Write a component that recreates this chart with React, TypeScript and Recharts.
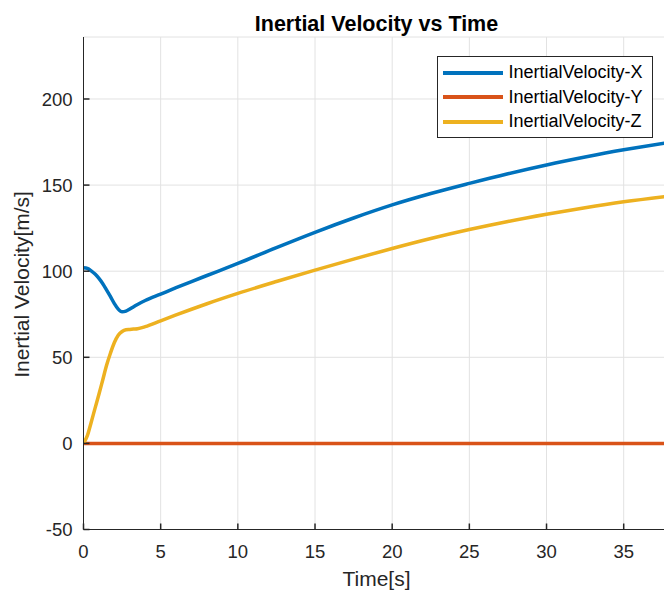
import React from 'react';
import { LineChart, Line, XAxis, YAxis, CartesianGrid, Legend } from 'recharts';

const time = [0, 0.25, 0.5, 0.75, 1, 1.25, 1.5, 1.75, 2, 2.25, 2.5, 2.75, 3, 3.25, 3.5, 4, 5, 6, 7, 8, 10, 12.5, 15, 17.5, 20, 22.5, 25, 27.5, 30, 32.5, 35, 38];
const velX = [102, 101.6, 100.2, 98.3, 95.8, 92.7, 89, 85.2, 81.2, 78, 76.4, 76.8, 78.0, 79.4, 80.7, 83.0, 86.7, 90.4, 94, 97.5, 104.5, 113.7, 122.6, 130.9, 138.5, 145.1, 151.0, 156.6, 161.7, 166.3, 170.5, 174.9];
const velY = time.map(() => 0);
const velZ = [0, 4.5, 12.3, 20.5, 28.5, 37, 45.5, 52.5, 58.6, 62.8, 65, 66, 66.2, 66.4, 66.6, 67.8, 71.2, 74.6, 77.9, 81.1, 87.1, 94, 100.6, 107, 113.2, 119, 124.2, 128.9, 133.1, 136.9, 140.3, 143.7];

const xTicks = [0, 5, 10, 15, 20, 25, 30, 35];
const yTicks = [-50, 0, 50, 100, 150, 200];

const seriesNames = ['InertialVelocity-X', 'InertialVelocity-Y', 'InertialVelocity-Z'];
const seriesKeys = ['vx', 'vy', 'vz'];
const seriesColors = ['#0072BD', '#D95319', '#EDB120'];

const data = time.map((t, i) => ({ t, vx: velX[i], vy: velY[i], vz: velZ[i] }));

const FONT = '"Liberation Sans", Arial, Helvetica, sans-serif';
const INK = '#262626';

const renderLegend = () => (
  <div
    style={{
      boxSizing: 'border-box',
      width: 216,
      border: `1px solid ${INK}`,
      background: '#fff',
      padding: '3.5px 4px 2.5px 5px',
      fontFamily: FONT,
      fontSize: 18,
      color: '#000',
    }}
  >
    {seriesNames.map((name, i) => (
      <div key={name} style={{ display: 'flex', alignItems: 'center', height: 24.5, whiteSpace: 'nowrap' }}>
        <span style={{ display: 'inline-block', width: 60, height: 4, background: seriesColors[i], marginRight: 5.5 }} />
        <span>{name}</span>
      </div>
    ))}
  </div>
);

export default function App() {
  return (
    <div style={{ position: 'absolute', left: 0, top: 0, width: 664, height: 595, overflow: 'hidden', background: '#fff' }}>
      <LineChart width={670} height={595} data={data} margin={{ top: 37, right: 0, bottom: 0, left: 0 }}>
        <CartesianGrid stroke="#e2e2e2" strokeWidth={1} />
        <XAxis
          dataKey="t"
          type="number"
          domain={[0, 38]}
          ticks={xTicks}
          interval={0}
          allowDataOverflow
          height={65.5}
          tickSize={-6}
          tickMargin={21}
          axisLine={{ stroke: INK, strokeWidth: 1 }}
          tickLine={{ stroke: INK, strokeWidth: 1.5 }}
          tick={{ fill: INK, fontSize: 18.5, fontFamily: FONT }}
        />
        <YAxis
          type="number"
          domain={[-50, 236]}
          ticks={yTicks}
          interval={0}
          allowDataOverflow
          width={83.5}
          tickSize={-6}
          tickMargin={17}
          axisLine={{ stroke: INK, strokeWidth: 1 }}
          tickLine={{ stroke: INK, strokeWidth: 1.5 }}
          tick={{ fill: INK, fontSize: 18.5, fontFamily: FONT }}
        />
        {seriesKeys.map((k, i) => (
          <Line
            key={k}
            dataKey={k}
            name={seriesNames[i]}
            type="monotone"
            stroke={seriesColors[i]}
            strokeWidth={3.5}
            dot={false}
            activeDot={false}
            isAnimationActive={false}
          />
        ))}
        <Legend
          layout="vertical"
          align="center"
          verticalAlign="middle"
          content={renderLegend}
          wrapperStyle={{ position: 'absolute', left: 437, top: 56, width: 216, height: 'auto' }}
        />
      </LineChart>
      <svg width={670} height={595} style={{ position: 'absolute', left: 0, top: 0, pointerEvents: 'none' }}>
        <text x={376.5} y={30.5} textAnchor="middle" fontFamily={FONT} fontSize={21.5} fontWeight="bold" fill="#000">
          Inertial Velocity vs Time
        </text>
        <text x={376.5} y={586} textAnchor="middle" fontFamily={FONT} fontSize={21} fill={INK}>
          Time[s]
        </text>
        <text
          x={28.5}
          y={284.5}
          textAnchor="middle"
          fontFamily={FONT}
          fontSize={21}
          fill={INK}
          transform="rotate(-90, 28.5, 284.5)"
        >
          Inertial Velocity[m/s]
        </text>
      </svg>
    </div>
  );
}
